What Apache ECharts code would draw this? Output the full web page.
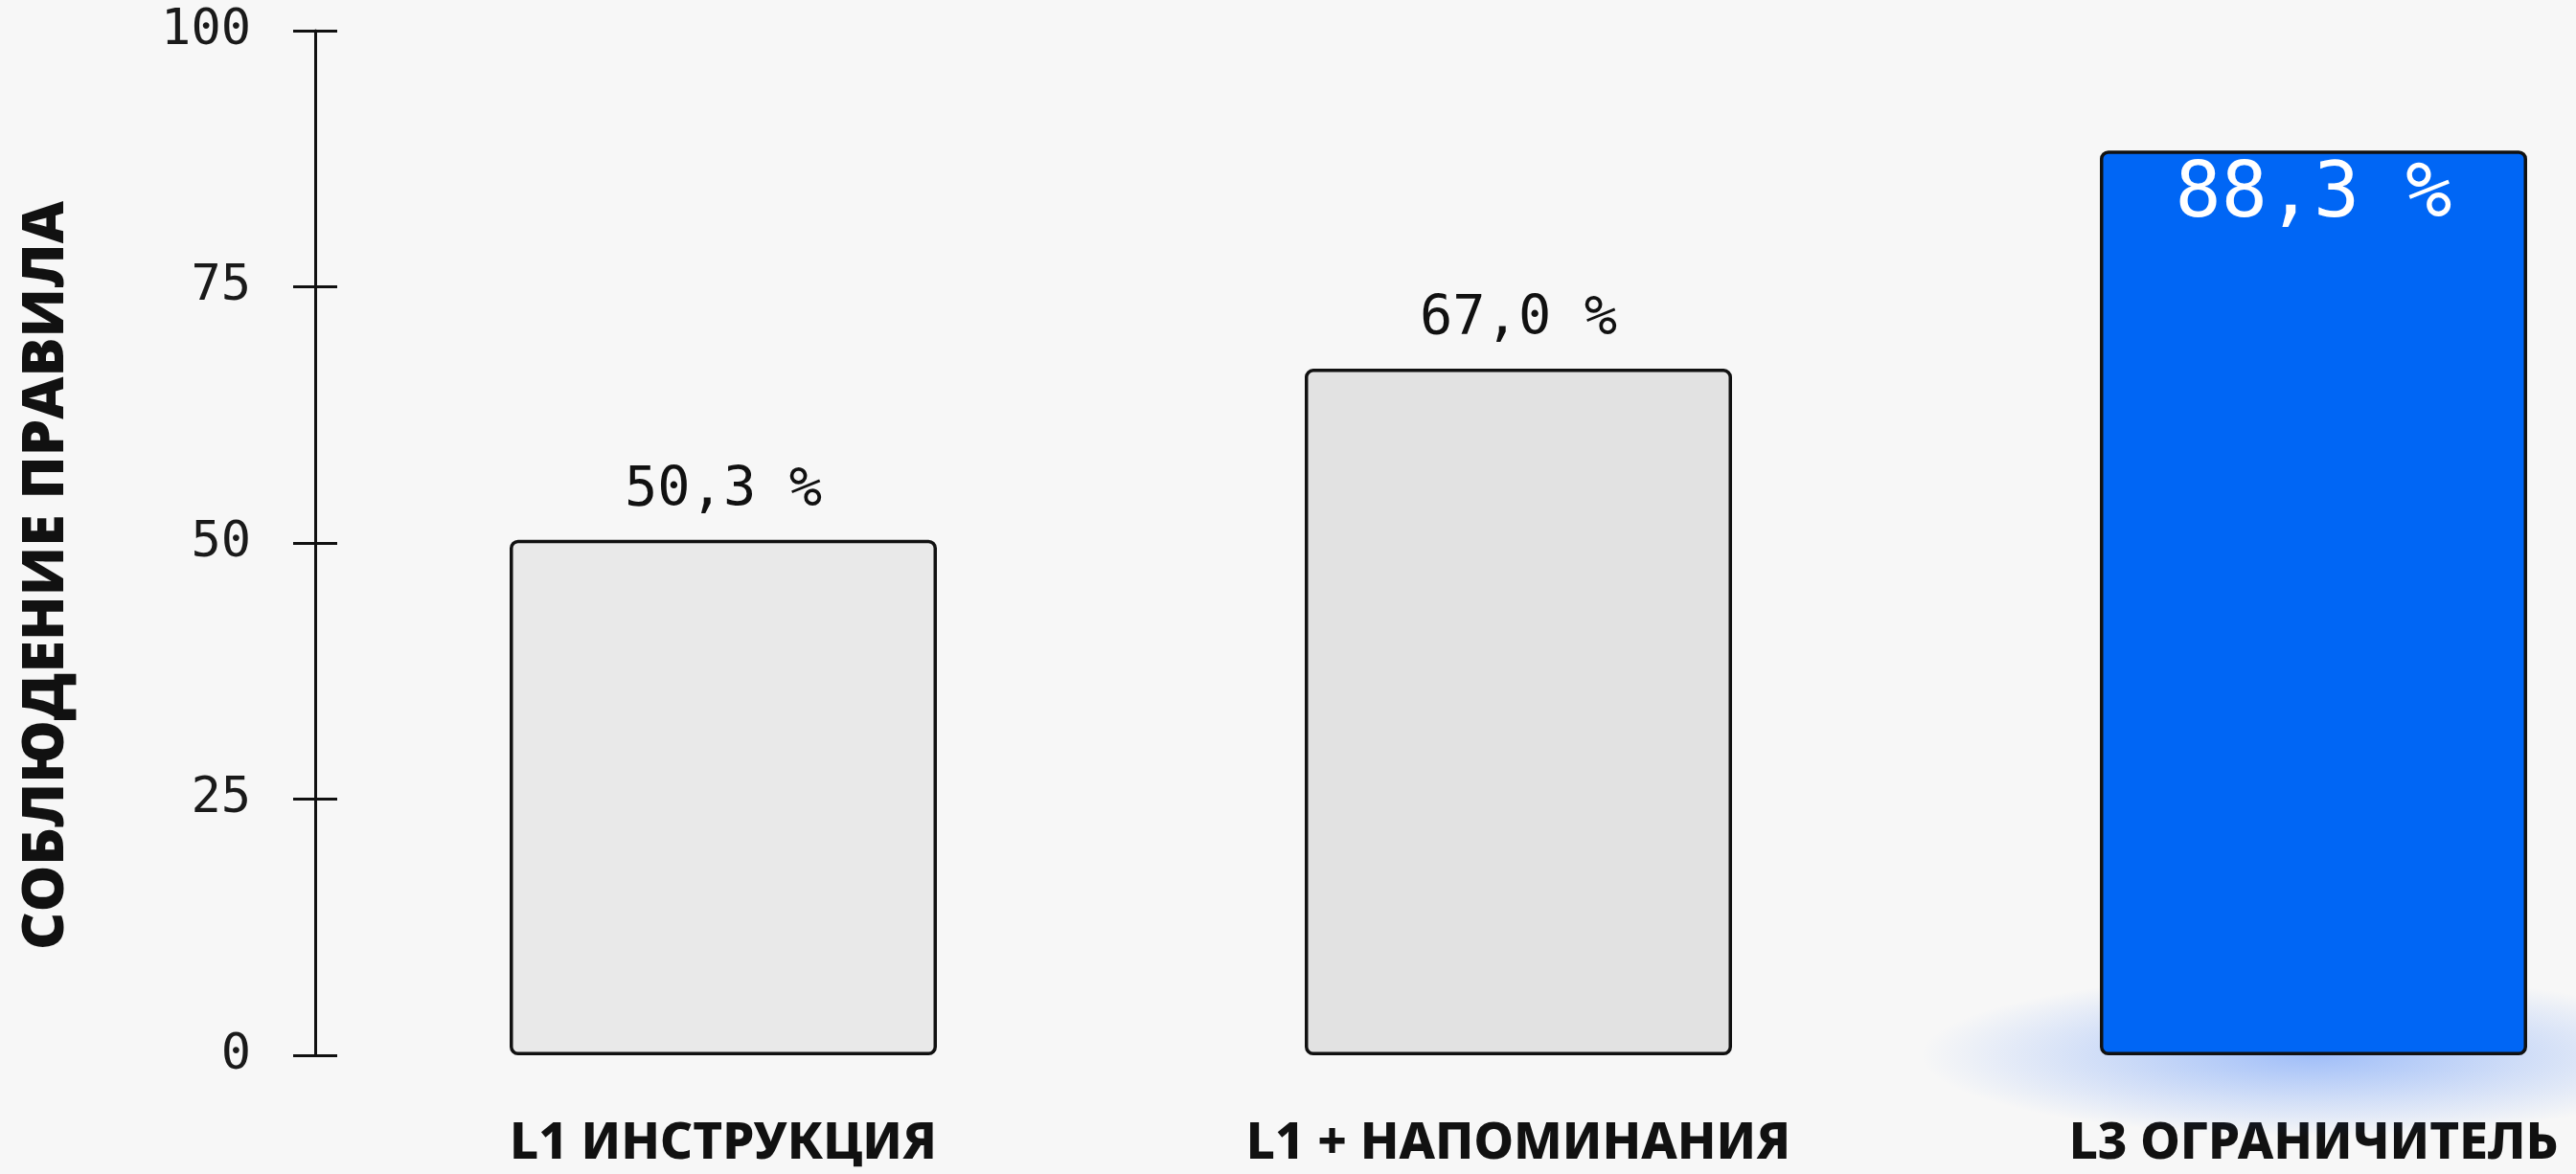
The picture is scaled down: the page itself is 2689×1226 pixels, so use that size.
<!DOCTYPE html>
<html>
<head>
<meta charset="utf-8">
<script src="https://cdn.jsdelivr.net/npm/echarts@6/dist/echarts.min.js"></script>
<style>
html,body{margin:0;padding:0;background:#f7f7f7;}
#chart{width:2689px;height:1226px;}
</style>
</head>
<body>
<div id="chart"></div>
<script>
// ---- data ----
const categories = ['L1 ИНСТРУКЦИЯ', 'L1 + НАПОМИНАНИЯ', 'L3 ОГРАНИЧИТЕЛЬ'];
const compliance = [50.3, 67.0, 88.3];
const yTicks = [0, 25, 50, 75, 100];
const yAxisTitle = 'СОБЛЮДЕНИЕ ПРАВИЛА';
const highlightIndex = 2;

// ---- styling ----
const barColors = ['#e9e9e9', '#e2e2e2', '#0066f5'];
const mono = "'DejaVu Sans Mono', 'Liberation Mono', monospace";

const barData = compliance.map((v, i) => {
  const hl = i === highlightIndex;
  return {
    value: v,
    itemStyle: { color: barColors[i] },
    label: hl ? {
      position: 'insideTop', distance: 8, color: '#ffffff', fontSize: 80
    } : {
      position: 'top', distance: 22, color: '#111111', fontSize: 57
    }
  };
});

const glowData = categories.map((c, i) => i === highlightIndex ? 0 : '-');

const yBase = {
  type: 'value', min: yTicks[0], max: yTicks[yTicks.length - 1],
  interval: yTicks[1] - yTicks[0], offset: 11, position: 'left',
  splitLine: { show: false }
};

const chart = echarts.init(document.getElementById('chart'), null, { renderer: 'canvas' });
chart.setOption({
  backgroundColor: '#f7f7f7',
  animation: false,
  grid: { left: 340, width: 2490, top: 32, height: 1070, containLabel: false, outerBoundsMode: 'none' },
  xAxis: {
    type: 'category', data: categories,
    axisLine: { show: false }, axisTick: { show: false },
    axisLabel: {
      interval: 0, hideOverlap: false,
      margin: 66, color: '#111111', fontSize: 53, fontWeight: 800,
      fontFamily: "'Noto Sans', 'DejaVu Sans', sans-serif"
    }
  },
  yAxis: [
    Object.assign({}, yBase, {
      axisLine: { show: true, lineStyle: { color: '#111111', width: 3 } },
      axisTick: { show: true, length: 23, lineStyle: { color: '#111111', width: 3 } },
      axisLabel: { margin: 67, color: '#1a1a1a', fontSize: 52, fontFamily: mono },
      name: yAxisTitle, nameLocation: 'middle', nameRotate: 90, nameGap: 250,
      nameTextStyle: {
        fontFamily: "'Open Sans', 'Inter', 'Noto Sans', sans-serif", fontWeight: 800,
        fontSize: 61, color: '#111111', padding: [0, 68, 0, 0]
      }
    }),
    Object.assign({}, yBase, {
      axisLine: { show: false },
      axisTick: { show: true, inside: true, length: 23, lineStyle: { color: '#111111', width: 3 } },
      axisLabel: { show: false }
    })
  ],
  series: [
    {
      type: 'scatter', data: glowData, yAxisIndex: 0, z: 1, silent: true,
      symbol: 'circle', symbolSize: [820, 170],
      itemStyle: {
        color: {
          type: 'radial', x: 0.5, y: 0.5, r: 0.5,
          colorStops: [
            { offset: 0, color: 'rgba(30,105,250,0.50)' },
            { offset: 0.55, color: 'rgba(30,105,250,0.22)' },
            { offset: 1, color: 'rgba(30,105,250,0)' }
          ]
        }
      }
    },
    {
      type: 'bar', data: barData, yAxisIndex: 0, z: 3, barWidth: 446,
      itemStyle: { borderColor: '#111111', borderWidth: 3.5, borderRadius: 7 },
      label: {
        show: true, fontFamily: mono,
        formatter: p => p.value.toFixed(1).replace('.', ',') + ' %'
      }
    }
  ]
});
</script>
</body>
</html>
